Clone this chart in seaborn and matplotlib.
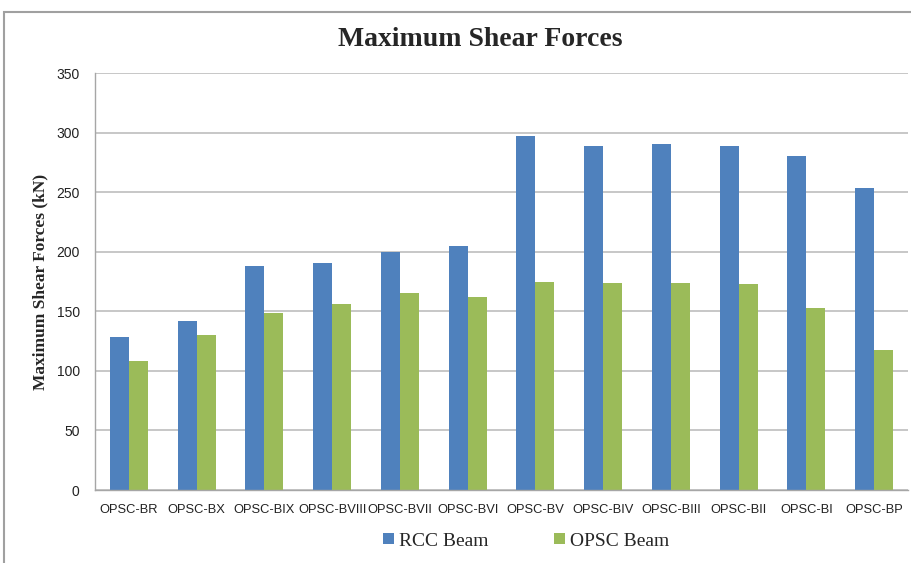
import pandas as pd
import matplotlib.pyplot as plt
import matplotlib.patches as patches
import seaborn as sns

# --- data ---
beams = ['OPSC-BR', 'OPSC-BX', 'OPSC-BIX', 'OPSC-BVIII', 'OPSC-BVII', 'OPSC-BVI',
         'OPSC-BV', 'OPSC-BIV', 'OPSC-BIII', 'OPSC-BII', 'OPSC-BI', 'OPSC-BP']
rcc_beam = [128, 141.5, 188, 190.5, 200, 205, 297.5, 288.5, 290.5, 288.5, 280, 253.5]
opsc_beam = [108, 130, 148.5, 156, 165.5, 162, 174.5, 173.5, 173.5, 172.5, 152.5, 117.5]

df = pd.DataFrame({'Beam': beams * 2,
                   'Force': rcc_beam + opsc_beam,
                   'Type': ['RCC Beam'] * len(beams) + ['OPSC Beam'] * len(beams)})

sns.set_theme(style='white')
plt.rcParams['font.family'] = ['Liberation Sans', 'DejaVu Sans']

fig = plt.figure(figsize=(9.11, 5.63), dpi=100)
ax = fig.add_axes([95 / 911, 1 - 490 / 563, 813 / 911, 417 / 563])

sns.barplot(data=df, x='Beam', y='Force', hue='Type', ax=ax,
            palette={'RCC Beam': '#4F81BD', 'OPSC Beam': '#9BBB59'},
            width=0.56, saturation=1, linewidth=0, legend=True)

ax.set_ylim(0, 350)
ax.set_yticks(range(0, 351, 50))
ax.grid(axis='y', color='#BDBDBD', linewidth=1.2)
ax.set_axisbelow(True)
for s in ['top', 'right']:
    ax.spines[s].set_visible(False)
for s in ['left', 'bottom']:
    ax.spines[s].set_color('#A6A6A6')
    ax.spines[s].set_linewidth(1.0)
ax.tick_params(axis='both', length=0, labelsize=9.3, colors='#222222')
ax.tick_params(axis='y', pad=11, labelsize=10)
ax.tick_params(axis='x', pad=10)
ax.set_xlabel('')
ax.set_ylabel('Maximum Shear Forces (kN)', family='Liberation Serif',
              fontweight='bold', fontsize=12.5, labelpad=6)

fig.text(480 / 911, 1 - 40 / 563, 'Maximum Shear Forces', family='Liberation Serif',
         fontweight='bold', fontsize=20, ha='center', va='center')

handles, labels = ax.get_legend_handles_labels()
ax.get_legend().remove()
fig.legend(handles, labels, loc='center', bbox_to_anchor=(526 / 911, 1 - 541 / 563),
           ncol=2, frameon=False, prop={'family': 'Liberation Serif', 'size': 14},
           handlelength=0.55, handleheight=0.55, columnspacing=3.4, handletextpad=0.25)

# outer chart frame
fig.patches.append(patches.Rectangle((4 / 911, -0.1), 1.2, 1 - 12 / 563 + 0.1,
                                     transform=fig.transFigure, fill=False,
                                     edgecolor='#A0A0A0', linewidth=1.5))

fig.savefig('out.png', dpi=100)
